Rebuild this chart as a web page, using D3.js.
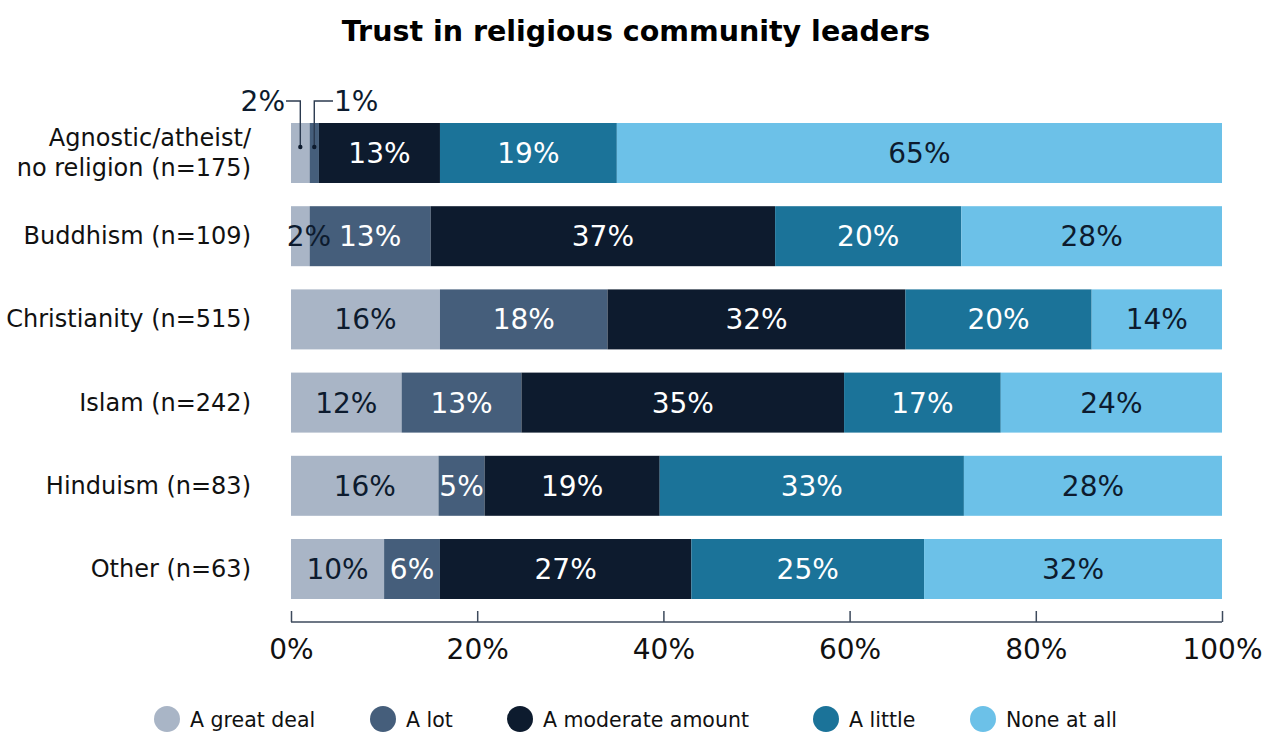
<!DOCTYPE html>
<html>
<head>
<meta charset="utf-8">
<script src="https://cdn.jsdelivr.net/npm/d3@7/dist/d3.min.js"></script>
<style>
  html, body { margin: 0; padding: 0; background: #fff; }
  svg { display: block; font-family: "DejaVu Sans", sans-serif; }
</style>
</head>
<body>
<svg id="chart" width="1266" height="733"></svg>
<script>
// Survey groups (rows, top to bottom)
const groups = [
  "Agnostic/atheist/\nno religion (n=175)",
  "Buddhism (n=109)",
  "Christianity (n=515)",
  "Islam (n=242)",
  "Hinduism (n=83)",
  "Other (n=63)"
];

// Response categories (stack order, left to right)
const responses = ["A great deal", "A lot", "A moderate amount", "A little", "None at all"];

// Percentages per response, one value per group
const greatDeal = [2, 2, 16, 12, 16, 10];
const aLot      = [1, 13, 18, 13, 5, 6];
const moderate  = [13, 37, 32, 35, 19, 27];
const aLittle   = [19, 20, 20, 17, 33, 25];
const noneAtAll = [65, 28, 14, 24, 28, 32];

const tickValues = [0, 20, 40, 60, 80, 100];

const colors = ["#a9b5c6", "#455e7b", "#0d1b2e", "#1b7399", "#6cc1e8"];
const labelColors = ["#0d1b2e", "#ffffff", "#ffffff", "#ffffff", "#0d1b2e"];

const series = [greatDeal, aLot, moderate, aLittle, noneAtAll];
const rows = groups.map((g, i) => {
  const row = { group: g };
  responses.forEach((r, j) => row[r] = series[j][i]);
  return row;
});
// Rows whose rounded values add up to 101 are scaled to fill the 100% bar
rows.forEach(r => {
  const total = d3.sum(responses, k => r[k]);
  responses.forEach(k => r[k + "_n"] = r[k] * 100 / total);
});

const svg = d3.select("#chart");
const x = d3.scaleLinear().domain([0, 100]).range([291, 1222]);
const bandH = 60, step = 83.2;
const y = d3.scalePoint().domain(groups).range([123, 123 + step * (groups.length - 1)]);

const stacked = d3.stack().keys(responses.map(k => k + "_n"))(rows);

// Title
svg.append("text")
  .attr("x", 636).attr("y", 41)
  .attr("text-anchor", "middle")
  .attr("font-size", 28.5).attr("font-weight", 700)
  .attr("fill", "#000")
  .text("Trust in religious community leaders");

// Bars
const layers = svg.append("g").selectAll("g").data(stacked).join("g")
  .attr("fill", (d, i) => colors[i]);

layers.selectAll("rect").data(d => d).join("rect")
  .attr("x", d => x(d[0]))
  .attr("y", d => y(d.data.group))
  .attr("width", d => x(d[1]) - x(d[0]))
  .attr("height", bandH);

// Segment labels
stacked.forEach((layer, i) => {
  const key = responses[i];
  svg.append("g").selectAll("text").data(layer).join("text")
    .filter(d => !(d.data.group.startsWith("Agnostic") && i < 2))
    .attr("x", d => {
      if (d.data.group.startsWith("Buddhism") && i === 0) return x(d[0]) + 18;
      return (x(d[0]) + x(d[1])) / 2;
    })
    .attr("y", d => y(d.data.group) + bandH / 2 + 10)
    .attr("text-anchor", "middle")
    .attr("font-size", 28)
    .attr("fill", labelColors[i])
    .text(d => d.data[key] + "%");
});

// Callouts for the two thin segments in the first row
const g0 = groups[0];
const first = rows[0];
const callouts = [
  { idx: 0, textX: 286, anchor: "end" },
  { idx: 1, textX: 333, anchor: "start" }
];
callouts.forEach(c => {
  const seg = stacked[c.idx][0];
  const cx = (x(seg[0]) + x(seg[1])) / 2;
  const ly = 101;
  svg.append("path")
    .attr("d", `M${c.textX},${ly}H${cx}V${y(g0) + 24}`)
    .attr("fill", "none").attr("stroke", "#2b3a4f").attr("stroke-width", 1.4);
  svg.append("circle").attr("cx", cx).attr("cy", y(g0) + 24).attr("r", 2.2).attr("fill", "#0d1b2e");
  svg.append("text")
    .attr("x", c.textX + (c.anchor === "end" ? -1 : 1)).attr("y", ly + 10)
    .attr("text-anchor", c.anchor)
    .attr("font-size", 28).attr("fill", "#0d1b2e")
    .text(first[responses[c.idx]] + "%");
});

// Category labels
groups.forEach(g => {
  const lines = g.split("\n");
  const t = svg.append("text")
    .attr("text-anchor", "end")
    .attr("font-size", 24).attr("fill", "#111");
  const cy = y(g) + bandH / 2;
  const lh = 30;
  lines.forEach((ln, k) => {
    t.append("tspan")
      .attr("x", 251)
      .attr("y", cy + 8 + (k - (lines.length - 1) / 2) * lh)
      .text(ln);
  });
});

// X axis
const axis = svg.append("g")
  .attr("transform", "translate(0,622)")
  .call(d3.axisBottom(x).tickValues(tickValues).tickSize(-11).tickFormat(d => d + "%"));
axis.select(".domain").attr("stroke", "#3d4a5c").attr("stroke-width", 1.5).attr("d", "M291,0H1222");
axis.selectAll(".tick line").attr("stroke", "#3d4a5c").attr("stroke-width", 1.5);
axis.selectAll(".tick text")
  .attr("y", 17).attr("dy", "0.71em")
  .attr("font-size", 28).attr("fill", "#111")
  .attr("font-family", "\"DejaVu Sans\", sans-serif");

// Legend
const legendX = [167, 383, 520, 826, 983];
const lg = svg.append("g");
responses.forEach((r, i) => {
  lg.append("circle").attr("cx", legendX[i]).attr("cy", 719).attr("r", 13).attr("fill", colors[i]);
  lg.append("text").attr("x", legendX[i] + 23).attr("y", 727)
    .attr("font-size", 20.5).attr("fill", "#111").text(r);
});
</script>
</body>
</html>
